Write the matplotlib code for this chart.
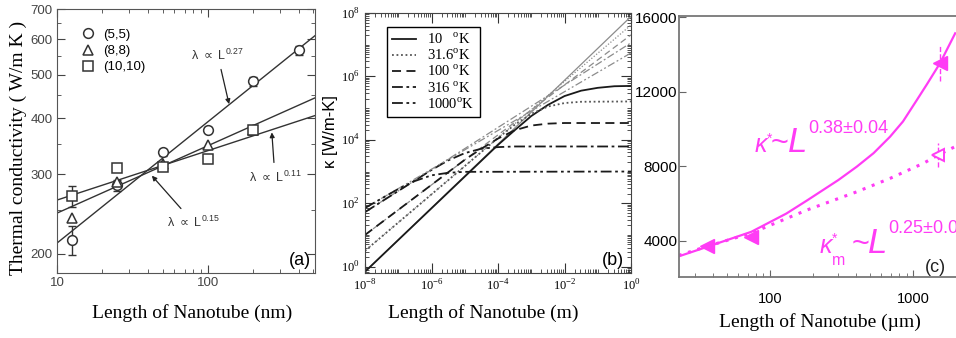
import numpy as np
import matplotlib.pyplot as plt
from matplotlib.lines import Line2D
from matplotlib.ticker import NullFormatter, LogLocator

SANS = ['Liberation Sans', 'DejaVu Sans']
SERIF = ['Liberation Serif', 'DejaVu Serif']
MAG = '#ff3cf5'

# ---- (a) MD thermal conductivity vs tube length
len_a = [12.5, 25, 50, 100, 200, 400]
kappa_55 = [214, 284, 336, 377, 483, 566]
err_55 = [16, 8, 6, 5, 10, 13]
len_88 = [12.5, 25, 50, 100, 200]
kappa_88 = [240, 288, 316, 349, 377]
len_1010 = [12.5, 25, 50, 100, 200]
kappa_1010 = [268, 310, 312, 324, 377]
err_1010 = [14, 0, 0, 0, 0]

fit_exp = [0.27, 0.15, 0.11]
fit_at10 = [211, 246, 263]
fit_len = np.array([10, 512])

yticks_a = [200, 300, 400, 500, 600, 700]
yminor_a = [250, 350, 450, 550, 650]

# ---- (b) kappa vs length for several temperatures
temps = ['10', '31.6', '100', '316', '1000']
temp_labels = [r'10   $^{\mathregular{o}}$K', r'31.6$^{\mathregular{o}}$K',
               r'100 $^{\mathregular{o}}$K', r'316 $^{\mathregular{o}}$K',
               r'1000$^{\mathregular{o}}$K']
# unbounded curves: log10(kappa) at L = 1e-8 m and L = 1 m
div_start = [-0.16, 0.50, 1.00, 1.72, 1.85]
div_end = [7.89, 7.62, 7.31, 7.06, 6.74]
# saturating curves: (log10 L, log10 kappa)
sat_logL = [
    [-8, -4, -3.5, -3, -2.5, -2, -1.5, -1, -0.5, 0],
    [-8, -4, -3.5, -3, -2.5, -2, -1.5, 0],
    [-8, -5, -4.5, -4, -3.5, -3, -2.5, -2, 0],
    [-8, -6, -5.5, -5, -4.5, -4, -3.5, 0],
    [-8, -7, -6.5, -6, -5.5, -5, 0],
]
sat_logK = [
    [-0.16, 3.84, 4.30, 4.75, 5.10, 5.38, 5.55, 5.64, 5.69, 5.70],
    [0.50, 4.06, 4.47, 4.82, 5.05, 5.16, 5.20, 5.21],
    [1.00, 3.37, 3.72, 4.04, 4.30, 4.45, 4.51, 4.53, 4.53],
    [1.72, 3.05, 3.35, 3.58, 3.72, 3.77, 3.79, 3.79],
    [1.85, 2.45, 2.70, 2.88, 2.96, 2.99, 3.00],
]
styles = ['-', (0, (1, 1.5)), (0, (5, 3)), (0, (6, 2, 1.5, 2)),
          (0, (6, 2, 1.5, 2, 1.5, 2))]

# ---- (c) measured kappa vs length (um)
len_star = [23, 36, 74, 130, 181, 300, 404, 530, 690, 850, 1062, 1250, 1545, 1970]
kappa_star = [3150, 3650, 4470, 5450, 6150, 7250, 7970, 8700, 9580, 10400,
              11550, 12400, 13540, 15140]
len_m = [23, 36, 74, 181, 404, 690, 1180, 1500, 1970]
kappa_m = [3200, 3680, 4400, 5640, 6620, 7340, 8150, 8600, 9050]
pts_len = [36, 74, 1545]
pts_kappa = [3705, 4200, 13540]
pts_err = [0, 0, 950]
open_len = [1496]
open_kappa = [8600]
open_err = [650]

W, H = 956, 338
fig = plt.figure(figsize=(W / 100, H / 100), dpi=100)


def px_box(left, top, right, bottom):
    return [left / W, 1 - bottom / H, (right - left) / W, (bottom - top) / H]


# ================= (a)
ax = fig.add_axes(px_box(57, 9, 315, 273))
ax.set_xscale('log')
ax.set_yscale('log')
for e, a in zip(fit_exp, fit_at10):
    ax.plot(fit_len, a * (fit_len / 10) ** e, color='#333333', lw=1.0)

ax.errorbar(len_a, kappa_55, yerr=err_55, fmt='none', ecolor='#333333',
            elinewidth=1, capsize=3)
ax.errorbar(len_1010, kappa_1010, yerr=err_1010, fmt='none', ecolor='#333333',
            elinewidth=1, capsize=3)
mk = dict(ls='none', ms=7, mfc='white', mec='#333333', mew=1.1)
ax.plot(len_a, kappa_55, marker='o', **mk)
ax.plot(len_88, kappa_88, marker='^', **mk)
ax.plot(len_1010, kappa_1010, marker='s', **mk)

handles = [Line2D([], [], marker=m, **mk) for m in ['o', '^', 's']]
ax.legend(handles, ['(5,5)', '(8,8)', '(10,10)'], loc='upper left',
          bbox_to_anchor=(0.05, 0.97), frameon=False, handlelength=1.0,
          handletextpad=0.6, labelspacing=0.3, prop={'family': SANS, 'size': 9.5})

ax.set_xlim(10, 512)
ax.set_ylim(181, 700)
ax.set_yticks(yticks_a)
ax.set_yticklabels([str(v) for v in yticks_a], fontfamily=SANS, fontsize=9.5)
ax.set_yticks(yminor_a, minor=True)
ax.yaxis.set_minor_formatter(NullFormatter())
ax.set_xticks([10, 100])
ax.set_xticklabels(['10', '100'], fontfamily=SANS, fontsize=9.5)
ax.xaxis.set_minor_locator(LogLocator(base=10, subs=np.arange(2, 10)))
ax.xaxis.set_minor_formatter(NullFormatter())
ax.tick_params(which='both', direction='in', top=True, right=True,
               colors='#444444', pad=3)
ax.tick_params(which='major', length=6)
ax.tick_params(which='minor', length=3)
for s in ax.spines.values():
    s.set_color('#555555')

arrow = dict(arrowstyle='-|>', color='#222222', lw=0.9, shrinkA=3, shrinkB=0,
             mutation_scale=7)
for lab, txt_xy, head in [('0.27', (116, 553), (138, 430)),
                          ('0.11', (278, 296), (265, 372)),
                          ('0.15', (79.5, 235), (42.5, 298))]:
    ax.annotate(r'λ $\propto$ L$^{\mathregular{%s}}$' % lab, xy=head,
                xytext=txt_xy, ha='center', va='center', fontsize=9,
                family=SANS, color='#333333', arrowprops=arrow)
ax.text(0.985, 0.015, '(a)', transform=ax.transAxes, ha='right', va='bottom',
        fontsize=13, family=SANS)

fig.text(18 / W, 1 - 148 / H, 'Thermal conductivity ( W/m K )', rotation=90,
         ha='center', va='center', family=SERIF, fontsize=14)
fig.text(192 / W, 1 - 313 / H, 'Length of Nanotube (nm)', ha='center',
         va='center', family=SERIF, fontsize=14)

# ================= (b)
bx = fig.add_axes(px_box(365, 13, 631, 273))
bx.set_xscale('log')
bx.set_yscale('log')
leg_lines = []
for i in range(len(temps)):
    bx.plot([1e-8, 1.0], [10 ** div_start[i], 10 ** div_end[i]], ls=styles[i],
            color='#8c8c8c', lw=0.9)
    col = '#555555' if i == 1 else '#1a1a1a'
    ln, = bx.plot(10 ** np.array(sat_logL[i], dtype=float),
                  10 ** np.array(sat_logK[i]), ls=styles[i], color=col, lw=1.3)
    leg_lines.append(ln)

leg = bx.legend(leg_lines, temp_labels, loc='upper left',
                bbox_to_anchor=(0.083, 0.948), borderaxespad=0,
                prop={'family': SERIF, 'size': 10.5}, frameon=True,
                fancybox=False, edgecolor='k', framealpha=1, handlelength=1.6,
                labelspacing=0.05, borderpad=0.35, handletextpad=0.8)
leg.get_frame().set_linewidth(1.0)

bx.set_xlim(1e-8, 1)
bx.set_ylim(0.63, 1e8)
xt = [1e-8, 1e-6, 1e-4, 1e-2, 1]
bx.set_xticks(xt)
bx.set_xticklabels([r'10$^{\mathregular{-8}}$', r'10$^{\mathregular{-6}}$',
                    r'10$^{\mathregular{-4}}$', r'10$^{\mathregular{-2}}$',
                    r'10$^{\mathregular{0}}$'], fontfamily=SERIF, fontsize=9)
yt = [1, 1e2, 1e4, 1e6, 1e8]
bx.set_yticks(yt)
bx.set_yticklabels([r'10$^{\mathregular{0}}$', r'10$^{\mathregular{2}}$',
                    r'10$^{\mathregular{4}}$', r'10$^{\mathregular{6}}$',
                    r'10$^{\mathregular{8}}$'], fontfamily=SERIF, fontsize=9)
for axis in (bx.xaxis, bx.yaxis):
    axis.set_minor_locator(LogLocator(base=10, subs=np.arange(1, 10), numticks=40))
    axis.set_minor_formatter(NullFormatter())
bx.tick_params(which='both', direction='in', top=True, right=True,
               colors='#333333', labelcolor='k')
bx.tick_params(which='major', length=7, pad=4)
bx.tick_params(which='minor', length=3)
for s in bx.spines.values():
    s.set_color('#444444')
bx.text(0.975, 0.015, '(b)', transform=bx.transAxes, ha='right', va='bottom',
        fontsize=13, family=SANS)

fig.text(330 / W, 1 - 132 / H, 'κ [W/m-K]', rotation=90, ha='center',
         va='center', family=SANS, fontsize=12)
fig.text(483 / W, 1 - 313 / H, 'Length of Nanotube (m)', ha='center',
         va='center', family=SERIF, fontsize=14)

# ================= (c)
cx = fig.add_axes(px_box(679, 16, 990, 277))
cx.set_xscale('log')
cx.plot(len_star, kappa_star, '-', color=MAG, lw=1.6)
cx.plot(len_m, kappa_m, ls=(0, (1, 2.2)), color=MAG, lw=2.2)
eb = cx.errorbar(pts_len, pts_kappa, yerr=pts_err, fmt='<', ms=10, color=MAG,
                 elinewidth=1.0, capsize=0)
eb[2][0].set_linestyle('--')
eb2 = cx.errorbar(open_len, open_kappa, yerr=open_err, fmt='<', ms=9,
                  mfc='white', mec=MAG, mew=1.4, ecolor=MAG, elinewidth=1.0,
                  capsize=0)
eb2[2][0].set_linestyle('--')

cx.set_xlim(23.1, 3450)
cx.set_ylim(2040, 16070)
yt_c = [4000, 8000, 12000, 16000]
cx.set_yticks(yt_c)
cx.set_yticklabels([str(v) for v in yt_c], fontfamily=SANS, fontsize=11)
cx.set_xticks([100, 1000])
cx.set_xticklabels(['100', '1000'], fontfamily=SANS, fontsize=10.5)
cx.xaxis.set_minor_locator(LogLocator(base=10, subs=np.arange(2, 10)))
cx.xaxis.set_minor_formatter(NullFormatter())
cx.tick_params(which='both', direction='in', top=False, right=False,
               colors='#666666', labelcolor='k')
cx.tick_params(axis='y', length=5, pad=1)
cx.tick_params(axis='x', which='major', length=5, pad=11)
cx.tick_params(axis='x', which='minor', length=3)
for s in cx.spines.values():
    s.set_color('#777777')
    s.set_linewidth(1.3)

it = dict(color=MAG, family=SANS, va='baseline', ha='left')
cx.text(78.5, 8758, 'κ', fontsize=18, style='italic', **it)
cx.text(95.3, 9240, '*', fontsize=10, **it)
cx.text(101, 8758, '~', fontsize=22, **it)
cx.text(133.7, 8758, 'L', fontsize=25, style='italic', **it)
cx.text(184.5, 9779, '0.38±0.04', fontsize=13, **it)

cx.text(223.6, 3328, 'κ', fontsize=18, style='italic', **it)
cx.text(271.5, 3866, '*', fontsize=10, **it)
cx.text(271.5, 2683, 'm', fontsize=11.5, **it)
cx.text(372, 3328, '~', fontsize=22, **it)
cx.text(484, 3328, 'L', fontsize=25, style='italic', **it)
cx.text(667, 4403, '0.25±0.04', fontsize=13, **it)

cx.text(1424, 2306, '(c)', ha='center', va='baseline', fontsize=13,
        family=SANS, color='#222222')

fig.text(820 / W, 1 - 322 / H, 'Length of Nanotube (µm)', ha='center',
         va='center', family=SERIF, fontsize=14)

fig.savefig('out.png', dpi=100)
